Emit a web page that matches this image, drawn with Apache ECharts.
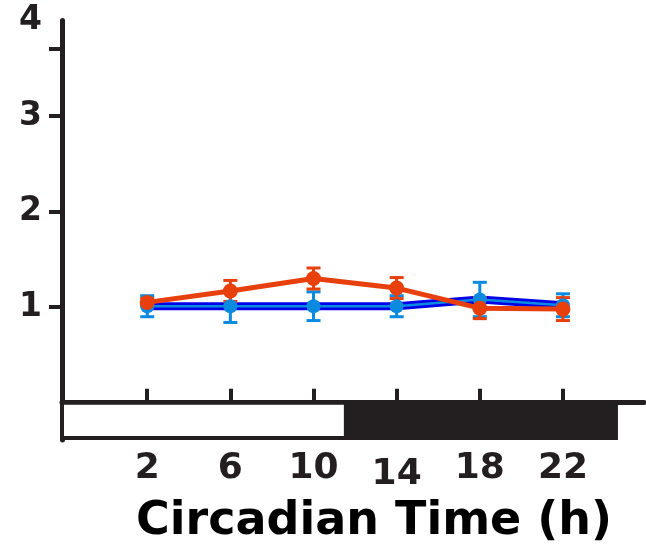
<!DOCTYPE html>
<html>
<head>
<meta charset="utf-8">
<script src="https://cdn.jsdelivr.net/npm/echarts@6/dist/echarts.min.js"></script>
<style>
  html, body { margin: 0; padding: 0; background: #fff; }
  #chart { width: 646px; height: 551px; }
</style>
</head>
<body>
<div id="chart"></div>
<script>
var hours = [2, 6, 10, 14, 18, 22];
var blueMean = [1.01, 1.01, 1.01, 1.01, 1.08, 1.02];
var blueErr = [0.11, 0.17, 0.15, 0.11, 0.18, 0.12];
var redMean = [1.05, 1.17, 1.30, 1.20, 0.99, 0.98];
var redErr = [0.04, 0.11, 0.11, 0.11, 0.11, 0.12];
var yTicks = [1, 2, 3, 3.7];
var yLabels = [1, 2, 3, 4];
// light / dark phases, start and end in hours
var phaseStart = [-2.1, 11.56];
var phaseEnd = [11.56, 24.55];
var phaseDark = [false, true];

var yMin = -0.39;
var ink = '#231f20';
var blue = '#0a8be0';
var darkBlue = '#0000e8';
var red = '#e8400c';

function pairs(means) {
    return hours.map(function (h, i) { return [h, means[i]]; });
}

function errorSeries(color, means, errs) {
    var data = hours.map(function (h, i) {
        return [h, means[i] - errs[i], means[i] + errs[i]];
    });
    return {
        type: 'custom',
        data: data,
        encode: { x: 0, y: [1, 2] },
        z: 3,
        renderItem: function (params, api) {
            var x = api.value(0);
            var hi = api.coord([x, api.value(2)]);
            var lo = api.coord([x, api.value(1)]);
            var w = 7;
            var st = { stroke: color, lineWidth: 3 };
            return {
                type: 'group',
                children: [
                    { type: 'line', shape: { x1: hi[0], y1: hi[1], x2: lo[0], y2: lo[1] }, style: st },
                    { type: 'line', shape: { x1: hi[0] - w, y1: hi[1], x2: hi[0] + w, y2: hi[1] }, style: st },
                    { type: 'line', shape: { x1: lo[0] - w, y1: lo[1], x2: lo[0] + w, y2: lo[1] }, style: st }
                ]
            };
        }
    };
}

var chart = echarts.init(document.getElementById('chart'));
var option = {
    animation: false,
    title: {
        text: 'Circadian Time (h)',
        left: 131,
        top: 494,
        textStyle: { fontFamily: 'DejaVu Sans', fontWeight: 'bold', fontSize: 46, color: '#000' }
    },
    grid: { left: 62, right: 2, top: 20.5, bottom: 111, outerBoundsMode: 'none' },
    xAxis: {
        type: 'value',
        min: -2.1,
        max: 25.9,
        splitLine: { show: false },
        axisLine: { onZero: true, lineStyle: { color: ink, width: 5 } },
        axisTick: { inside: true, length: 14, customValues: hours, lineStyle: { color: ink, width: 4 } },
        axisLabel: {
            customValues: hours,
            margin: 11,
            color: ink,
            fontFamily: 'DejaVu Sans',
            fontWeight: 'bold',
            fontSize: 36,
            formatter: function (v) { return v === 14 ? '{low|14}' : String(v); },
            rich: { low: { fontFamily: 'DejaVu Sans', fontWeight: 'bold', fontSize: 36, color: ink, padding: [6, 0, 0, 0] } }
        }
    },
    yAxis: {
        type: 'value',
        min: yMin,
        max: 4,
        splitLine: { show: false },
        axisLine: { show: true, onZero: false, lineStyle: { color: ink, width: 5 } },
        axisTick: { show: true, length: 13, customValues: yTicks, lineStyle: { color: ink, width: 4 } },
        axisLabel: {
            customValues: yLabels,
            margin: 20,
            color: ink,
            fontFamily: 'DejaVu Sans',
            fontWeight: 'bold',
            fontSize: 33
        }
    },
    series: [
        {
            type: 'custom',
            data: phaseStart.map(function (s, i) { return [s, phaseEnd[i]]; }),
            encode: { x: [0, 1] },
            z: 1,
            renderItem: function (params, api) {
                var a = api.coord([api.value(0), 0]);
                var b = api.coord([api.value(1), yMin]);
                var dark = phaseDark[params.dataIndex];
                return {
                    type: 'rect',
                    shape: { x: a[0], y: a[1], width: b[0] - a[0], height: b[1] - a[1] - 2 },
                    style: { fill: dark ? ink : '#fff', stroke: ink, lineWidth: 4 }
                };
            }
        },
        {
            type: 'line',
            data: pairs(blueMean),
            symbol: 'none',
            z: 2,
            lineStyle: { color: darkBlue, width: 8 }
        },
        {
            type: 'line',
            data: pairs(blueMean),
            symbol: 'circle',
            symbolSize: 14,
            z: 3,
            itemStyle: { color: blue },
            lineStyle: { color: blue, width: 2.5 }
        },
        errorSeries(blue, blueMean, blueErr),
        errorSeries(red, redMean, redErr),
        {
            type: 'line',
            data: pairs(redMean),
            symbol: 'circle',
            symbolSize: 15,
            z: 4,
            itemStyle: { color: red },
            lineStyle: { color: red, width: 5 }
        }
    ]
};
chart.setOption(option);
</script>
</body>
</html>
